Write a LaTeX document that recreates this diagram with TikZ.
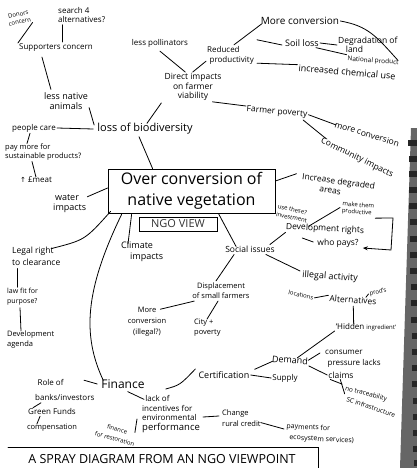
\documentclass[tikz,border=0pt]{standalone}
\usepackage{fontspec}
\setmainfont{Open Sans}
\newfontfamily\symfont{DejaVu Sans}
\usetikzlibrary{arrows.meta,calc}
\begin{document}
\begin{tikzpicture}[x=1pt,y=-1pt,
  every node/.style={inner sep=1pt},
  lb/.style={align=center},
  ll/.style={align=left},
  fs/.style 2 args={font=\fontsize{#1}{#2}\selectfont},
  pen/.style={line width=0.8pt, line cap=round, black},
  bigbox/.style={draw, line width=0.8pt, minimum width=167pt, minimum height=44pt, align=center, font=\fontsize{16}{21}\selectfont},
  smallbox/.style={draw, line width=0.6pt, minimum width=78pt, minimum height=14pt, font=\fontsize{11}{12}\selectfont, text=black!80},
]
\useasboundingbox (0,0) rectangle (417,468);
\fill[white] (0,0) rectangle (417,468);
% binding strip
\fill[black!60] (411,128) -- (417,128) -- (417,468) -- (400,468) -- cycle;
\foreach \y in {140,156,171,187,203,219,236,252,268,284,300,317,333,349,365,381,398,414,430,446,460}
  \fill[black!85] (\y/60+406,\y) rectangle (417,\y+6);

% nodes
\node[lb,fs={6}{7.5},rotate=12] (donors) at (19,18) {Donors\\concern};
\node[ll,fs={8}{9},anchor=west] (search) at (57,15) {search 4\\alternatives?};
\node[fs={8}{9}] (supporters) at (56,48) {Supporters concern};
\node[fs={8}{9}] (lesspoll) at (160,43) {less pollinators};
\node[lb,fs={8.5}{9.5}] (direct) at (193,87) {Direct impacts\\on farmer\\viability};
\node[ll,fs={8}{10},anchor=west] (reduced) at (206,55) {Reduced\\\hspace*{0.3em}productivity};
\node[fs={10}{11}] (moreconv) at (300,21) {More conversion};
\node[fs={9}{10}] (soil) at (302,43) {Soil loss};
\node[ll,fs={8.5}{9},anchor=west] (degrad) at (337,45) {Degradation of\\\hspace*{0.9em}land};
\node[fs={6.5}{7},rotate=-4] (national) at (373,61) {National product};
\node[fs={9}{10},rotate=-5] (incchem) at (347,72) {increased chemical use};
\node[fs={8.5}{9},rotate=-5] (farmerpov) at (277,112) {Farmer poverty};
\node[fs={8.5}{9},rotate=-17] (moreconv2) at (367,134) {more conversion};
\node[fs={8.5}{9},rotate=-26] (community) at (357,158) {Community impacts};
\node[lb,fs={9}{10}] (lessnative) at (66,101) {less native\\animals};
\node[fs={11}{12}] (loss) at (145,129) {loss of biodiversity};
\node[fs={8}{9}] (people) at (34,128) {people care};
\node[ll,fs={7.5}{9},anchor=west] (paymore) at (4,152) {pay more for\\sustainable products?};
\node[fs={8}{9}] (meat) at (36,180) {{\symfont\fontsize{7}{8}\selectfont ↑} £meat};
\node[bigbox] (main) at (191.5,191) {Over conversion of\\native vegetation};
\node[smallbox] (ngo) at (178,224) {NGO VIEW};
\node[lb,fs={9}{10}] (water) at (67,204) {water\\\hspace*{0.6em}impacts};
\node[ll,fs={9}{11},anchor=west] (climate) at (120,252) {Climate\\\hspace*{1em}impacts};
\node[ll,fs={8.5}{12},anchor=west] (legal) at (11,256) {Legal right\\to clearance};
\node[ll,fs={7}{10},anchor=west] (lawfit) at (6,297) {law fit for\\purpose?};
\node[ll,fs={7.5}{10},anchor=west] (devagenda) at (6,340) {Development\\agenda};
\node[fs={8.5}{9}] (social) at (250,249) {Social issues};
\node[ll,fs={8.5}{10},rotate=-8] (increase) at (338,186) {Increase degraded\\\hspace*{2.2em}areas};
\node[ll,fs={6}{8},rotate=-12,anchor=west] (usethese) at (276,210) {use these?\\investment};
\node[ll,fs={6}{7},rotate=-5] (make) at (358,209) {make them\\productive};
\node[fs={8.5}{9},rotate=-3] (devrights) at (325,229) {Development rights};
\node[fs={8.5}{9}] (whopays) at (338,243) {who pays?};
\node[fs={9}{10},rotate=-4] (illegal) at (330,277) {illegal activity};
\node[fs={6}{7},rotate=-12] (locations) at (301,295) {locations};
\node[fs={8.5}{9},rotate=-4] (alternatives) at (353,300) {Alternatives};
\node[fs={6}{7},rotate=12] (prods) at (378,292) {prod's};
\node[fs={8}{9}] (hidden) at (366,327) {`Hidden {\fontsize{6}{7}\selectfont ingredient'}};
\node[lb,fs={7.5}{10}] (displacement) at (221,291) {Displacement\\of small farmers};
\node[lb,fs={7.5}{11}] (moreconv3) at (147,322) {More\\conversion\\(illegal?)};
\node[ll,fs={7.5}{10},anchor=west] (city) at (193,328) {City +\\poverty};
\node[fs={9}{10},rotate=-4] (demand) at (290,360) {Demand};
\node[ll,fs={8}{11},anchor=west] (consumer) at (324,359) {consumer\\\hspace*{0.3em}pressure lacks};
\node[fs={8.5}{9}] (claims) at (341,375) {claims};
\node[fs={6.5}{7},rotate=-15] (notrace) at (366,394) {no traceability};
\node[fs={6.5}{7},rotate=-18] (sc) at (371,407) {SC infrastructure};
\node[fs={9}{10}] (cert) at (224,375) {Certification};
\node[fs={8}{9}] (supply) at (285,378) {Supply};
\node[fs={12}{13}] (finance) at (123,384) {Finance};
\node[ll,fs={8}{15},anchor=west] (role) at (34,390) {\hspace*{0.3em}Role of\\banks/investors};
\node[fs={8}{9}] (green) at (52,411) {Green Funds};
\node[fs={7.5}{8}] (comp) at (52,428) {compensation};
\node[lb,fs={6}{9.5},rotate=-15] (finrest) at (116,434) {finance\\for restoration};
\node[ll,fs={8}{9.5},anchor=west] (lack) at (141,414) {\hspace*{0.4em}lack of\\incentives for\\environmental\\{\fontsize{9.5}{10}\selectfont performance}};
\node[ll,fs={7.5}{11},anchor=west] (change) at (221,418) {Change\\rural credit};
\node[ll,fs={7}{11},anchor=west,rotate=-3] (payments) at (285,432) {payments for\\\hspace*{0.5em}ecosystem services)};
\node[fs={12.5}{13}] (title) at (162,459) {A SPRAY DIAGRAM FROM AN NGO VIEWPOINT};
\coordinate (tl) at (8,447);
\coordinate (tr) at (318,447);
\coordinate (br) at (318,468);

% connectors
\draw[pen] (donors.south east) -- (supporters.north west);
\draw[pen] ($(search.south west)+(5,1)$) -- ($(supporters.north)+(6,-1)$);
\draw[pen] ($(supporters.south west)+(24,4)$) -- ($(lessnative.north west)+(8,-2)$);
\draw[pen] ($(lesspoll.south)+(0,3)$) -- ($(direct.north west)+(22,0)$);
\draw[pen] ($(direct.north east)+(-30,0)$) -- ($(reduced.south west)+(0,-4)$);
\draw[pen] ($(reduced.north west)+(28,0)$) -- ($(moreconv.south west)+(2,-2)$);
\draw[pen] ($(reduced.north east)+(2,-5)$) -- ($(soil.west)+(-2,2)$);
\draw[pen] (soil.east) -- (degrad.west);
\draw[pen] ($(soil.south east)+(-4,0)$) -- (national.north west);
\draw[pen] (moreconv.east) .. controls (368,26) and (376,36) .. ($(national.north east)+(-2,2)$);
\draw[pen] ($(reduced.south east)+(2,-2)$) -- ($(incchem.west)+(0,-3)$);
\draw[pen] ($(direct.south east)+(-10,0)$) -- ($(farmerpov.north west)+(0,2)$);
\draw[pen] (farmerpov.east) -- ($(moreconv2.west)+(2,1)$);
\draw[pen] ($(farmerpov.south east)+(-5,0)$) -- ($(community.north west)+(3,3)$);
\draw[pen] ($(lessnative.south east)+(0,-3)$) -- ($(loss.west)+(-2,-4)$);
\draw[pen] ($(direct.south west)+(-2,1)$) -- ($(loss.north)+(2,1)$);
\draw[pen] (people.east) -- ($(loss.west)+(-3,0)$);
\draw[pen] ($(people.south west)+(19,0)$) -- ($(paymore.north west)+(23,1)$);
\draw[pen] ($(paymore.south west)+(28,0)$) -- ($(meat.north west)+(17,1)$);
\draw[pen] ($(loss.south)+(-6,1)$) -- ($(main.north west)+(45,0)$);
\draw[pen] ($(water.north east)+(0,3)$) -- ($(main.west)+(0,-3)$);
\draw[pen] ($(legal.north east)+(-10,3)$) .. controls (85,240) .. ($(main.south west)+(3,-2)$);
\draw[pen] ($(legal.south west)+(6,2)$) -- ($(lawfit.north west)+(11,0)$);
\draw[pen] ($(lawfit.south west)+(14,1)$) -- ($(devagenda.north west)+(15,1)$);
\draw[pen] ($(main.south west)+(14,1)$) .. controls (85,290) and (82,335) .. ($(finance.north west)+(3,2)$);
\draw[pen] ($(main.south west)+(24,1)$) -- ($(climate.north west)+(8,3)$);
\draw[pen] ($(main.south east)+(-57,0)$) -- ($(social.north west)+(12,2)$);
\draw[pen] ($(main.east)+(0,-10)$) -- ($(increase.west)+(-4,-7)$);
\draw[pen] ($(usethese.south east)+(1,2)$) -- ($(make.west)+(-1,0)$);
\draw[pen,-{Stealth[length=5pt,width=4pt]}] ($(make.south east)+(1,0)$) -- (393,218) -- (391,250) -- ($(whopays.east)+(3,5)$);
\draw[pen] ($(social.north east)+(-6,0)$) -- ($(devrights.south west)+(1,0)$);
\draw[pen] ($(whopays.west)+(-14,-5)$) -- ($(whopays.west)+(-3,-1)$);
\draw[pen] ($(social.south east)+(-10,1)$) -- ($(illegal.west)+(-1,-4)$);
\draw[pen] ($(social.south west)+(10,1)$) -- ($(displacement.north)+(-5,-1)$);
\draw[pen] ($(displacement.south west)+(3,1)$) -- ($(moreconv3.north east)+(-7,3)$);
\draw[pen] ($(displacement.south)+(-3,1)$) -- ($(city.north west)+(14,1)$);
\draw[pen] (locations.east) -- ($(alternatives.west)+(0,-3)$);
\draw[pen] ($(alternatives.north east)+(-12,0)$) -- (prods.west);
\draw[pen] ($(alternatives.south east)+(-24,0)$) -- ($(hidden.north west)+(19,2)$);
\draw[pen] ($(hidden.west)+(0,4)$) -- ($(demand.north east)+(-12,1)$);
\draw[pen] ($(demand.east)+(-1,-1)$) -- ($(consumer.west)+(-4,-6)$);
\draw[pen] ($(demand.south east)+(0,0)$) -- (claims.west);
\draw[pen] ($(claims.south west)+(3,0)$) -- ($(notrace.west)+(-2,-4)$);
\draw[pen] ($(claims.south west)+(13,0)$) -- ($(sc.west)+(-1,-5)$);
\draw[pen] (cert.east) -- (supply.west);
\draw[pen] ($(cert.north east)+(4,-1)$) -- ($(demand.south west)+(2,-2)$);
\draw[pen] ($(finance.east)+(20,5)$) .. controls (180,385) .. ($(cert.west)+(-2,-6)$);
\draw[pen] ($(role.north west)+(50,2)$) -- ($(finance.west)+(-3,0)$);
\draw[pen] ($(role.south west)+(7,1)$) -- ($(green.north west)+(6,1)$);
\draw[pen] ($(green.south west)+(13,1)$) -- ($(comp.north west)+(11,1)$);
\draw[pen] ($(finance.south east)+(-18,2)$) -- ($(lack.north west)+(3,5)$);
\draw[pen] ($(finrest.north east)+(-4,1)$) -- ($(lack.west)+(-4,5)$);
\draw[pen] ($(lack.east)+(2,3)$) -- ($(change.west)+(-2,-2)$);
\draw[pen] ($(change.south east)+(-1,-5)$) -- ($(payments.west)+(-1,-3)$);
\draw[pen] (tl) -- (tr) -- (br);
\end{tikzpicture}
\end{document}
